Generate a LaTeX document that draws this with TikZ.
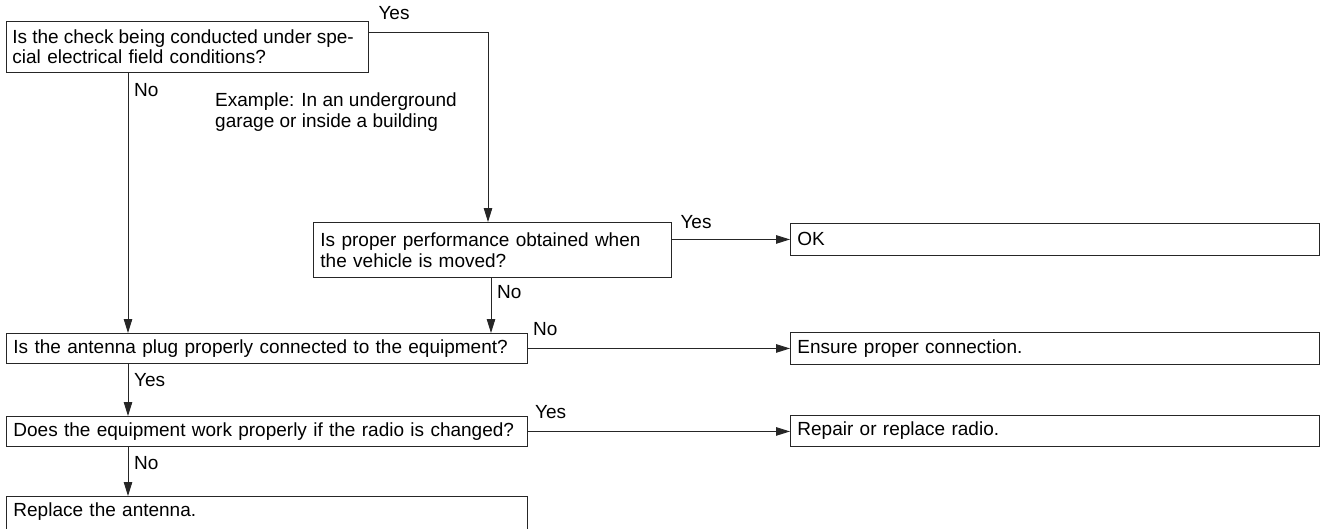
\documentclass[tikz,border=0pt]{standalone}
\usepackage{fontspec}
\setmainfont{Liberation Sans}
\usetikzlibrary{arrows.meta}
\begin{document}
\begin{tikzpicture}[x=1pt,y=-1pt,
  every node/.style={font=\fontsize{19}{21}\selectfont, text=black},
  box/.style={draw=black!85, line width=0.9pt, rectangle, anchor=north west,
    inner xsep=7pt, inner ysep=0pt, align=left},
  lbl/.style={inner sep=0pt},
  conn/.style={draw=black!85, line width=0.9pt},
  arr/.style={conn, -{Triangle[length=14pt,width=8.5pt]}}]
\clip (0,0) rectangle (1324,528);
\fill[white] (0,0) rectangle (1324,528);
% boxes
\node[box, minimum width=362pt, minimum height=51pt, text width=350pt, inner xsep=6pt] (q1) at (6,21)
  {\makebox[350pt][l]{\spaceskip=0.27em\relax Is the check being conducted under spe-}\\[-1pt]cial electrical field conditions?\\[-6pt]};
\node[box, minimum width=358pt, minimum height=55pt, text width=344pt] (q2) at (313,222)
  {Is proper performance obtained when\\the vehicle is moved?};
\node[box, minimum width=529pt, minimum height=32pt, text width=515pt] (ok) at (790,223) {OK};
\node[box, minimum width=521pt, minimum height=30pt, text width=507pt] (q4) at (6,333)
  {Is the antenna plug properly connected to the equipment?};
\node[box, minimum width=529pt, minimum height=32pt, text width=515pt] (ens) at (790,332)
  {Ensure proper connection.};
\node[box, minimum width=521pt, minimum height=30pt, text width=507pt] (q5) at (6,416)
  {Does the equipment work properly if the radio is changed?};
\node[box, minimum width=529pt, minimum height=31pt, text width=515pt] (rep) at (790,415)
  {Repair or replace radio.};
\node[box, draw=none, minimum width=521pt, minimum height=30pt, text width=507pt] (q6) at (6,496)
  {Replace the antenna.};
\draw[conn] (q6.north west) ++(0,40) -- (q6.north west) -- (q6.north east) -- ++(0,40);
% labels
\node[lbl] (y1) at (394,13) {Yes};
\node[lbl, anchor=west] (n1) at (134,90) {No};
\node[lbl, anchor=west, align=left] (ex) at (215,112)
  {Example: In an underground\\garage or inside a building};
\node[lbl] (y2) at (696,222) {Yes};
\node[lbl, anchor=west] (n2) at (497,292) {No};
\node[lbl, anchor=west] (n3) at (533,329) {No};
\node[lbl, anchor=west] (y3) at (134,380) {Yes};
\node[lbl, anchor=west] (y4) at (535,412) {Yes};
\node[lbl, anchor=west] (n4) at (134,463) {No};
% helper coordinates
\coordinate (c1) at (488,32);
\coordinate (xl) at (128,0);
\coordinate (xm) at (491,0);
% connectors
\draw[arr] (q1.east |- c1) -- (c1) -- (c1 |- q2.north);
\draw[arr] (q1.south -| xl) -- (q4.north -| xl);
\draw[arr] (q2.east |- ok.west) -- (ok.west);
\draw[arr] (q2.south -| xm) -- (q4.north -| xm);
\draw[arr] (q4.east) -- (q4.east -| ens.west);
\draw[arr] (q4.south -| xl) -- (q5.north -| xl);
\draw[arr] (q5.east) -- (q5.east -| rep.west);
\draw[arr] (q5.south -| xl) -- (q6.north -| xl);
\end{tikzpicture}
\end{document}
